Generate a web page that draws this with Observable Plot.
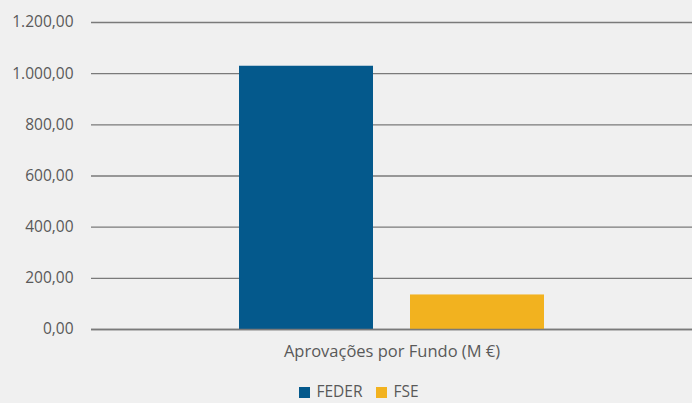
<!DOCTYPE html>
<html><head><meta charset="utf-8">
<script src="https://cdn.jsdelivr.net/npm/d3@7"></script>
<script src="https://cdn.jsdelivr.net/npm/@observablehq/plot@0.6"></script>
<style>
body{margin:0;background:#f0f0f0;font-family:"Open Sans",sans-serif;overflow:hidden;}
#chart svg{display:block;}
#legend{display:flex;justify-content:center;gap:14px;font-size:15.5px;line-height:21px;color:#595959;height:21px;align-items:center;padding-left:26px;margin-top:1px;}
#legend span.sw{display:inline-block;width:11px;height:11px;margin-right:6px;vertical-align:-1px;}
</style></head><body>
<div id="chart"></div>
<div id="legend"></div>
<script>
const category = "Aprovações por Fundo (M €)";
const funds = ["FEDER", "FSE"];
const values = [1029, 135];
const colors = ["#04598c", "#f2b21f"];
const yTicks = [0, 200, 400, 600, 800, 1000, 1200];

const data = funds.map((f, i) => ({fund: f, value: values[i]}));
const fmt = d3.formatLocale({decimal: ",", thousands: ".", grouping: [3], currency: ["", "€"]}).format(",.2f");

const plot = Plot.plot({
  width: 692, height: 380,
  marginLeft: 91, marginRight: 0, marginTop: 22, marginBottom: 51,
  style: {background: "#f0f0f0", fontFamily: "'Open Sans', sans-serif", fontSize: "15.5px", color: "#595959"},
  x: {domain: funds, axis: null, paddingInner: 0.215, paddingOuter: 0.855},
  y: {domain: [0, 1200], ticks: yTicks, label: null, tickFormat: fmt, tickSize: 0, tickPadding: 18},
  color: {domain: funds, range: colors},
  marks: [
    Plot.gridY(yTicks, {stroke: "#7a7a7a", strokeOpacity: 1, strokeWidth: 1.3}),
    Plot.barY(data, {x: "fund", y: "value", fill: "fund"}),
    Plot.ruleY([0], {stroke: "#7a7a7a", strokeWidth: 1.3}),
    Plot.axisY(yTicks, {tickFormat: fmt, tickSize: 0, tickPadding: 18, fontSize: 15.5, fill: "#595959", label: null}),
    Plot.text([category], {text: d => d, frameAnchor: "bottom", dy: 27, fill: "#595959", fontSize: 16.5})
  ]
});
document.getElementById("chart").appendChild(plot);
const leg = document.getElementById("legend");
funds.forEach((f, i) => {
  const s = document.createElement("span");
  s.innerHTML = `<span class="sw" style="background:${colors[i]}"></span>${f}`;
  leg.appendChild(s);
});
</script>
</body></html>
